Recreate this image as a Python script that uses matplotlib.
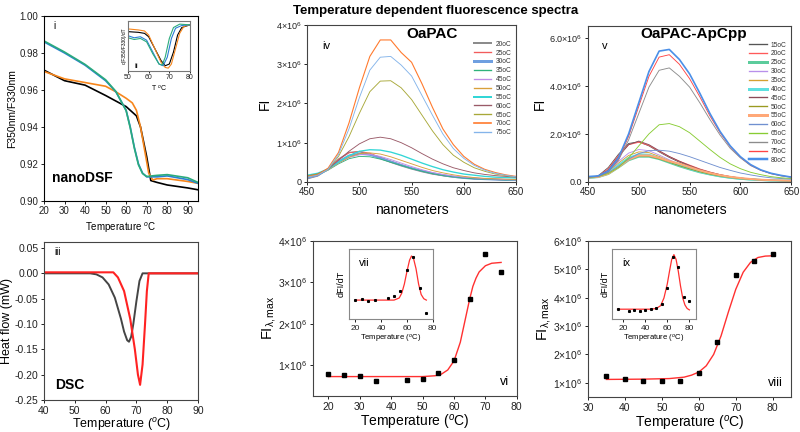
import matplotlib
matplotlib.use("Agg")
import matplotlib.pyplot as plt
from matplotlib.ticker import FuncFormatter

OUTPUT_FILE = "out.png"
FIGURE_SIZE = (8, 4.32)

# ---- panel i: nanoDSF ratio traces ----
dsf_t_black = [20, 30, 40, 50, 60, 65, 67, 70, 72, 75, 80, 90, 95]
dsf_black = [0.9707, 0.965, 0.9626, 0.957, 0.951, 0.946, 0.940, 0.924, 0.911, 0.910, 0.9086, 0.907, 0.906]
dsf_t_orange = [20, 30, 40, 50, 55, 60, 63, 65, 67, 69, 71, 73, 75, 80, 90, 95]
dsf_orange = [0.970, 0.966, 0.964, 0.962, 0.959, 0.9555, 0.953, 0.949, 0.940, 0.9275, 0.915, 0.9113, 0.912, 0.912, 0.9105, 0.9095]
dsf_t_blue = [20, 30, 40, 50, 55, 60, 62, 64, 66, 68, 70, 75, 80, 90, 95]
dsf_blue = [0.986, 0.980, 0.9734, 0.965, 0.959, 0.949, 0.940, 0.929, 0.920, 0.915, 0.913, 0.913, 0.9135, 0.9115, 0.9095]
dsf_green = [0.9865, 0.9805, 0.9738, 0.9655, 0.9592, 0.9488, 0.9395, 0.9285, 0.9195, 0.9148, 0.9132, 0.9138, 0.9142, 0.9125, 0.910]

# ---- panel ii: first derivative (arbitrary units) ----
deriv_t_black = [50, 55, 58, 60, 63, 66, 68, 70, 72, 74, 76, 80]
deriv_black = [-0.20, -0.22, -0.25, -0.35, -0.70, -1.05, -1.20, -1.15, -0.80, -0.30, -0.08, 0.0]
deriv_t_orange = [50, 55, 58, 60, 63, 66, 68, 69.5, 71, 73, 75, 77, 80]
deriv_orange = [-0.12, -0.15, -0.18, -0.30, -0.70, -1.10, -1.25, -1.27, -1.15, -0.70, -0.25, -0.05, 0.0]
deriv_t_blue = [50, 53, 56, 59, 62, 65, 67, 69, 71, 73, 76, 80]
deriv_blue = [-0.32, -0.38, -0.35, -0.45, -0.80, -1.15, -1.20, -0.95, -0.40, -0.10, -0.02, 0.0]
deriv_t_green = [50, 53, 56, 59, 62, 65, 66.5, 68, 70, 72, 75, 80]
deriv_green = [-0.38, -0.43, -0.40, -0.50, -0.85, -1.15, -1.18, -0.95, -0.40, -0.08, 0.02, 0.0]

# ---- panel iii: DSC ----
dsc_t_black = [40, 55, 57, 59, 61, 63, 65, 66, 67, 67.6, 68.3, 69, 70, 71, 72, 90]
dsc_black = [0.0, 0.0, -0.002, -0.008, -0.022, -0.048, -0.09, -0.115, -0.132, -0.135, -0.125, -0.1, -0.055, -0.015, 0.0, 0.0]
dsc_t_red = [40, 62.5, 64, 66, 68, 69.5, 70.5, 71.2, 72, 72.8, 73.4, 74, 90]
dsc_red = [0.002, 0.002, -0.008, -0.035, -0.09, -0.15, -0.2, -0.22, -0.18, -0.1, -0.035, 0.0, 0.0]

# ---- panels iv / v: emission spectra (units of 1e6) ----
wavelengths = [450, 460, 470, 480, 490, 500, 510, 520, 530, 540, 550,
               560, 570, 580, 590, 600, 610, 620, 630, 640, 650]

oapac_labels = ["20oC", "25oC", "30oC", "35oC", "45oC", "50oC",
                "55oC", "60oC", "65oC", "70oC", "75oC"]
oapac_spectra = [
    [0.08, 0.15, 0.33, 0.58, 0.75, 0.77, 0.70, 0.60, 0.50, 0.41, 0.33, 0.26, 0.20, 0.16, 0.12, 0.10, 0.08, 0.07, 0.06, 0.05, 0.05],
    [0.09, 0.16, 0.33, 0.57, 0.74, 0.78, 0.73, 0.63, 0.53, 0.44, 0.35, 0.27, 0.21, 0.16, 0.13, 0.10, 0.08, 0.07, 0.06, 0.05, 0.05],
    [0.10, 0.17, 0.32, 0.52, 0.67, 0.72, 0.69, 0.61, 0.52, 0.43, 0.35, 0.28, 0.22, 0.17, 0.13, 0.10, 0.08, 0.07, 0.06, 0.05, 0.05],
    [0.12, 0.18, 0.30, 0.46, 0.59, 0.65, 0.64, 0.58, 0.50, 0.42, 0.34, 0.27, 0.21, 0.16, 0.13, 0.10, 0.08, 0.07, 0.06, 0.05, 0.05],
    [0.13, 0.19, 0.31, 0.48, 0.62, 0.69, 0.70, 0.65, 0.57, 0.48, 0.39, 0.31, 0.24, 0.19, 0.15, 0.12, 0.10, 0.08, 0.07, 0.06, 0.05],
    [0.14, 0.20, 0.31, 0.48, 0.63, 0.72, 0.74, 0.71, 0.64, 0.55, 0.46, 0.37, 0.29, 0.23, 0.18, 0.14, 0.11, 0.09, 0.08, 0.07, 0.06],
    [0.17, 0.22, 0.33, 0.50, 0.67, 0.78, 0.82, 0.81, 0.76, 0.68, 0.58, 0.48, 0.39, 0.31, 0.25, 0.20, 0.17, 0.14, 0.12, 0.11, 0.10],
    [0.15, 0.20, 0.33, 0.55, 0.78, 0.97, 1.10, 1.14, 1.10, 1.00, 0.87, 0.72, 0.58, 0.46, 0.36, 0.29, 0.23, 0.19, 0.16, 0.14, 0.12],
    [0.15, 0.20, 0.33, 0.65, 1.15, 1.75, 2.30, 2.57, 2.58, 2.40, 2.10, 1.70, 1.30, 0.95, 0.68, 0.50, 0.36, 0.27, 0.20, 0.16, 0.13],
    [0.13, 0.18, 0.35, 0.75, 1.50, 2.40, 3.20, 3.62, 3.62, 3.30, 3.05, 2.50, 1.90, 1.35, 0.95, 0.65, 0.45, 0.32, 0.24, 0.18, 0.14],
    [0.12, 0.17, 0.32, 0.70, 1.35, 2.15, 2.85, 3.18, 3.20, 2.98, 2.70, 2.20, 1.70, 1.22, 0.85, 0.60, 0.42, 0.30, 0.22, 0.17, 0.13],
]

apcpp_labels = ["15oC", "20oC", "25oC", "30oC", "35oC", "40oC", "45oC",
                "50oC", "55oC", "60oC", "65oC", "70oC", "75oC", "80oC"]
apcpp_spectra = [
    [0.15, 0.25, 0.60, 1.15, 1.60, 1.67, 1.50, 1.25, 1.02, 0.82, 0.65, 0.50, 0.38, 0.28, 0.20, 0.15, 0.11, 0.08, 0.06, 0.05, 0.04],
    [0.15, 0.24, 0.55, 1.10, 1.55, 1.65, 1.52, 1.28, 1.05, 0.86, 0.70, 0.54, 0.41, 0.30, 0.22, 0.16, 0.12, 0.09, 0.07, 0.05, 0.04],
    [0.17, 0.20, 0.33, 0.60, 0.90, 1.05, 1.05, 0.95, 0.80, 0.65, 0.52, 0.40, 0.31, 0.23, 0.17, 0.13, 0.10, 0.08, 0.06, 0.05, 0.04],
    [0.16, 0.22, 0.45, 0.85, 1.20, 1.35, 1.30, 1.12, 0.92, 0.74, 0.58, 0.45, 0.34, 0.25, 0.18, 0.14, 0.10, 0.08, 0.06, 0.05, 0.04],
    [0.17, 0.22, 0.42, 0.78, 1.10, 1.25, 1.22, 1.06, 0.88, 0.72, 0.57, 0.44, 0.33, 0.25, 0.18, 0.14, 0.10, 0.08, 0.06, 0.05, 0.04],
    [0.17, 0.21, 0.38, 0.70, 1.00, 1.15, 1.13, 1.00, 0.84, 0.68, 0.54, 0.42, 0.32, 0.24, 0.18, 0.13, 0.10, 0.08, 0.06, 0.05, 0.04],
    [0.18, 0.23, 0.50, 1.05, 1.55, 1.70, 1.55, 1.30, 1.06, 0.86, 0.68, 0.52, 0.40, 0.30, 0.22, 0.16, 0.12, 0.09, 0.07, 0.05, 0.04],
    [0.18, 0.21, 0.34, 0.62, 0.93, 1.08, 1.07, 0.96, 0.82, 0.67, 0.54, 0.42, 0.32, 0.24, 0.18, 0.13, 0.10, 0.08, 0.06, 0.05, 0.04],
    [0.18, 0.21, 0.34, 0.62, 0.93, 1.10, 1.10, 1.00, 0.86, 0.76, 0.62, 0.48, 0.37, 0.28, 0.21, 0.16, 0.12, 0.09, 0.07, 0.06, 0.05],
    [0.18, 0.22, 0.38, 0.65, 0.95, 1.18, 1.30, 1.32, 1.28, 1.18, 1.05, 0.90, 0.75, 0.60, 0.48, 0.37, 0.29, 0.22, 0.17, 0.14, 0.11],
    [0.18, 0.22, 0.35, 0.60, 1.00, 1.50, 2.00, 2.38, 2.43, 2.30, 2.05, 1.70, 1.35, 1.02, 0.75, 0.55, 0.40, 0.30, 0.22, 0.17, 0.14],
    [0.20, 0.23, 0.42, 0.90, 1.75, 2.85, 3.95, 4.65, 4.75, 4.40, 3.95, 3.30, 2.60, 1.95, 1.40, 1.00, 0.68, 0.48, 0.34, 0.25, 0.19],
    [0.20, 0.24, 0.43, 0.95, 1.90, 3.15, 4.40, 5.20, 5.30, 4.90, 4.30, 3.55, 2.75, 2.05, 1.47, 1.03, 0.70, 0.49, 0.35, 0.26, 0.20],
    [0.22, 0.25, 0.45, 1.00, 2.00, 3.30, 4.60, 5.45, 5.52, 5.10, 4.50, 3.70, 2.85, 2.10, 1.50, 1.05, 0.72, 0.50, 0.36, 0.27, 0.20],
]

# ---- panel vi / vii: OaPAC melting ----
oapac_t = [20, 25, 30, 35, 45, 50, 55, 60, 65, 70, 75]
oapac_fmax = [0.78, 0.75, 0.73, 0.61, 0.64, 0.67, 0.80, 1.12, 2.60, 3.68, 3.24]
oapac_fit_t = [20, 50, 54, 56, 58, 60, 62, 63, 64, 65, 66, 67, 68, 70, 72, 75]
oapac_fit = [0.72, 0.72, 0.74, 0.78, 0.88, 1.10, 1.55, 1.90, 2.25, 2.60, 2.90, 3.10, 3.25, 3.40, 3.46, 3.48]
oapac_dfdt = [0.27, 0.28, 0.26, 0.27, 0.30, 0.33, 0.40, 0.70, 0.88, 0.44, 0.09]
oapac_dfdt_fit_t = [20, 50, 54, 56, 58, 60, 62, 63.5, 65, 67, 69, 71, 73, 75]
oapac_dfdt_fit = [0.27, 0.27, 0.30, 0.37, 0.50, 0.68, 0.84, 0.90, 0.87, 0.72, 0.50, 0.35, 0.29, 0.27]

# ---- panel viii / ix: OaPAC-ApCpp melting ----
apcpp_t = [35, 40, 45, 50, 55, 60, 65, 70, 75, 80]
apcpp_fmax = [1.24, 1.15, 1.08, 1.05, 1.08, 1.34, 2.45, 4.80, 5.31, 5.54]
apcpp_fit_t = [35, 45, 52, 56, 58, 60, 62, 64, 66, 68, 70, 72, 74, 76, 78, 80]
apcpp_fit = [1.12, 1.13, 1.15, 1.20, 1.27, 1.38, 1.60, 2.00, 2.65, 3.50, 4.30, 4.90, 5.25, 5.42, 5.47, 5.48]
apcpp_dfdt_t = [15, 25, 30, 35, 40, 45, 50, 55, 60, 65, 70, 75, 80]
apcpp_dfdt = [0.14, 0.11, 0.13, 0.12, 0.13, 0.14, 0.15, 0.21, 0.44, 0.88, 0.75, 0.31, 0.26]
apcpp_dfdt_fit_t = [15, 45, 50, 54, 57, 60, 62, 64, 66, 68, 70, 72, 74, 76, 78, 80]
apcpp_dfdt_fit = [0.14, 0.14, 0.15, 0.19, 0.30, 0.50, 0.68, 0.85, 0.92, 0.85, 0.68, 0.47, 0.30, 0.20, 0.15, 0.13]

OAPAC_COLORS = ["#8c8c8c", "#f25c5c", "#6f9fe0", "#2fb27a", "#c08ce6", "#d9a03a",
                "#33d6d6", "#9a5a68", "#a8a838", "#ff7a2e", "#84b4ea"]
OAPAC_WIDTHS = [1.2, 0.8, 1.8, 0.8, 0.8, 0.8, 1.2, 0.8, 0.8, 1.0, 0.8]
APCPP_COLORS = ["#555555", "#ff5a5a", "#5ccc9c", "#b890ea", "#d4a030", "#5ee0e0", "#8b4a58",
                "#9a9a20", "#ffa878", "#7090d0", "#88cc33", "#8c8c8c", "#ff4444", "#4a8fe8"]
APCPP_WIDTHS = [0.8, 0.8, 1.8, 0.8, 0.8, 1.8, 0.8, 0.8, 1.8, 0.8, 0.8, 0.8, 0.8, 1.5]

FRAME = "#444444"


def sci_formatter(decimals):
    def fmt(v, pos):
        m = v / 1e6
        if abs(m) < 1e-9:
            return "0" if decimals == 0 else "0." + "0" * decimals
        return r"$%.*f{\times}10^6$" % (decimals, m)
    return FuncFormatter(fmt)


def style_axes(ax, fs=7, color=FRAME):
    for s in ax.spines.values():
        s.set_color(color)
        s.set_linewidth(0.8)
    ax.tick_params(direction="out", length=2.5, width=0.7, labelsize=fs,
                   colors="#222222", pad=1.5)


def plot_nanodsf(fig):
    ax = fig.add_axes([0.055, 0.535, 0.1925, 0.428])
    ax.plot(dsf_t_black, dsf_black, color="black", lw=1.2)
    ax.plot(dsf_t_orange, dsf_orange, color="#f7861c", lw=1.2)
    ax.plot(dsf_t_blue, dsf_blue, color="#2a7fd4", lw=1.2)
    ax.plot(dsf_t_blue, dsf_green, color="#2bab7c", lw=1.2)
    ax.set_xlim(20, 95)
    ax.set_ylim(0.90, 1.00)
    ax.set_xticks(range(20, 91, 10))
    ax.set_yticks([0.90, 0.92, 0.94, 0.96, 0.98, 1.00])
    ax.set_ylabel("F350nm/F330nm", fontsize=7.5, labelpad=2)
    ax.set_xlabel("Temperature $^o$C", fontsize=7, labelpad=3)
    style_axes(ax, color="black")
    ax.text(0.06, 0.93, "i", transform=ax.transAxes, fontsize=7)
    ax.text(0.05, 0.1, "nanoDSF", transform=ax.transAxes, fontsize=10, fontweight="bold")

    ins = fig.add_axes([0.16, 0.836, 0.0775, 0.116])
    ins.plot(deriv_t_black, deriv_black, color="black", lw=0.8)
    ins.plot(deriv_t_orange, deriv_orange, color="#f7861c", lw=0.8)
    ins.plot(deriv_t_blue, deriv_blue, color="#2a7fd4", lw=0.8)
    ins.plot(deriv_t_green, deriv_green, color="#2bab7c", lw=0.8)
    ins.set_xlim(50, 80)
    ins.set_ylim(-1.35, 0.12)
    ins.set_xticks([50, 60, 70, 80])
    ins.set_yticks([])
    ins.set_xlabel("T $^o$C", fontsize=5, labelpad=1)
    ins.set_ylabel("d(F350/F330)/dT", fontsize=3.5, labelpad=1)
    style_axes(ins, fs=5, color="#777777")
    ins.tick_params(length=1.5, pad=1)
    ins.text(0.1, 0.06, "ii", transform=ins.transAxes, fontsize=6)


def plot_dsc(fig):
    ax = fig.add_axes([0.055, 0.074, 0.1925, 0.366])
    ax.plot(dsc_t_black, dsc_black, color="#454545", lw=1.4)
    ax.plot(dsc_t_red, dsc_red, color="#ff2222", lw=1.5)
    ax.set_xlim(40, 90)
    ax.set_ylim(-0.25, 0.062)
    ax.set_xticks(range(40, 91, 10))
    ax.set_yticks([-0.25, -0.20, -0.15, -0.10, -0.05, 0.00, 0.05])
    ax.yaxis.set_major_formatter(FuncFormatter(lambda v, p: "%.2f" % v if abs(v) > 1e-9 else "0.00"))
    ax.set_ylabel("Heat flow (mW)", fontsize=9)
    ax.yaxis.set_label_coords(-0.2, 0.5)
    ax.set_xlabel("Temperature ($^o$C)", fontsize=9, labelpad=0)
    style_axes(ax, fs=7.5)
    ax.text(0.07, 0.92, "iii", transform=ax.transAxes, fontsize=7)
    ax.text(0.07, 0.07, "DSC", transform=ax.transAxes, fontsize=10, fontweight="bold")


def plot_spectra(fig, rect, spectra, labels, colors, widths, ymax, yticks, decimals,
                 name, tag, name_x, ylabel_x):
    ax = fig.add_axes(rect)
    for vals, lab, c, w in zip(spectra, labels, colors, widths):
        ax.plot(wavelengths, [v * 1e6 for v in vals], color=c, lw=w * 0.8, label=lab)
    ax.set_xlim(450, 650)
    ax.set_ylim(0, ymax)
    ax.set_xticks([450, 500, 550, 600, 650])
    ax.set_yticks(yticks)
    ax.yaxis.set_major_formatter(sci_formatter(decimals))
    ax.set_ylabel("FI", fontsize=10)
    ax.yaxis.set_label_coords(ylabel_x, 0.5)
    ax.set_xlabel("nanometers", fontsize=10, labelpad=4)
    style_axes(ax)
    ax.tick_params(axis="y", labelsize=6.5)
    ax.text(0.07, 0.85, tag, transform=ax.transAxes, fontsize=8)
    ax.text(name_x, 0.92, name, transform=ax.transAxes, fontsize=11,
            fontweight="bold", ha="center")
    leg = ax.legend(loc="upper right", bbox_to_anchor=(1.0, 0.93), fontsize=4.8,
                    frameon=False, handlelength=2.6, labelspacing=0.28,
                    handletextpad=0.6, borderaxespad=0.3)
    for t in leg.get_texts():
        t.set_color("#333333")
    for h, w in zip(leg.get_lines(), widths):
        h.set_linewidth(w * 1.2)
    return ax


def plot_melt(fig, rect, t, fmax, fit_t, fit, xlim, ylim, yticks, xticks, tag):
    ax = fig.add_axes(rect)
    ax.plot(fit_t, [v * 1e6 for v in fit], color="#ff3030", lw=1.0)
    ax.plot(t, [v * 1e6 for v in fmax], "s", color="black", ms=3.5)
    ax.set_xlim(*xlim)
    ax.set_ylim(*ylim)
    ax.set_xticks(xticks)
    ax.set_yticks(yticks)
    ax.yaxis.set_major_formatter(sci_formatter(0))
    ax.set_ylabel(r"FI$_{\mathrm{\lambda,max}}$", fontsize=10.5)
    ax.yaxis.set_label_coords(-0.17, 0.5)
    ax.set_xlabel("Temperature ($^o$C)", fontsize=10, labelpad=1)
    style_axes(ax, fs=7.5)
    ax.text(0.96, 0.07, tag, transform=ax.transAxes, fontsize=9, ha="right")
    return ax


def plot_deriv_inset(fig, rect, t, d, fit_t, fit, xlim, tag):
    ins = fig.add_axes(rect)
    ins.plot(fit_t, fit, color="#ff3030", lw=0.9)
    ins.plot(t, d, "s", color="black", ms=1.2)
    ins.set_xlim(*xlim)
    ins.set_ylim(0, 1.0)
    ins.set_xticks([20, 40, 60, 80])
    ins.set_yticks([])
    ins.set_xlabel("Temperature ($^o$C)", fontsize=5.5, labelpad=1)
    ins.set_ylabel("dFI/dT", fontsize=6.5, labelpad=2)
    style_axes(ins, fs=6, color="#888888")
    ins.text(0.12, 0.76, tag, transform=ins.transAxes, fontsize=8)


def run():
    fig = plt.figure(figsize=FIGURE_SIZE, dpi=100)
    plt.rcParams["font.family"] = ["Liberation Sans", "DejaVu Sans"]
    plt.rcParams["mathtext.fontset"] = "custom"
    plt.rcParams["mathtext.rm"] = "Liberation Sans"
    plt.rcParams["mathtext.it"] = "Liberation Sans:italic"

    plot_nanodsf(fig)
    plot_dsc(fig)

    plot_spectra(fig, [0.384, 0.579, 0.261, 0.363], oapac_spectra, oapac_labels,
                 OAPAC_COLORS, OAPAC_WIDTHS, 4e6, [0, 1e6, 2e6, 3e6, 4e6], 0,
                 "OaPAC", "iv", 0.6, -0.17)
    plot_spectra(fig, [0.735, 0.579, 0.254, 0.361], apcpp_spectra, apcpp_labels,
                 APCPP_COLORS, APCPP_WIDTHS, 6.5e6, [0, 2e6, 4e6, 6e6], 1,
                 "OaPAC-ApCpp", "v", 0.52, -0.2)

    plot_melt(fig, [0.391, 0.0833, 0.255, 0.359], oapac_t, oapac_fmax, oapac_fit_t,
              oapac_fit, (15, 80), (0.25e6, 4e6), [1e6, 2e6, 3e6, 4e6],
              [20, 30, 40, 50, 60, 70, 80], "vi")
    plot_deriv_inset(fig, [0.436, 0.2616, 0.105, 0.162], oapac_t, oapac_dfdt,
                     oapac_dfdt_fit_t, oapac_dfdt_fit, (15, 80), "vii")

    plot_melt(fig, [0.735, 0.081, 0.254, 0.361], apcpp_t, apcpp_fmax, apcpp_fit_t,
              apcpp_fit, (30, 85), (0.5e6, 6e6), [1e6, 2e6, 3e6, 4e6, 5e6, 6e6],
              [30, 40, 50, 60, 70, 80], "viii")
    plot_deriv_inset(fig, [0.765, 0.2616, 0.105, 0.162], apcpp_dfdt_t, apcpp_dfdt,
                     apcpp_dfdt_fit_t, apcpp_dfdt_fit, (10, 86), "ix")

    fig.text(0.545, 0.968, "Temperature dependent fluorescence spectra",
             fontsize=9.5, fontweight="bold", ha="center")

    fig.savefig(OUTPUT_FILE, dpi=100)
    plt.close(fig)


if __name__ == "__main__":
    run()
